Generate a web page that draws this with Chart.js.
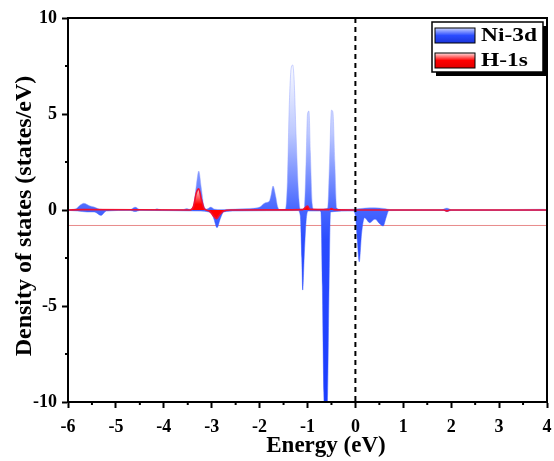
<!DOCTYPE html>
<html>
<head>
<meta charset="utf-8">
<script src="https://cdn.jsdelivr.net/npm/chart.js@4.4.1/dist/chart.umd.min.js"></script>
<style>
  html, body { margin: 0; padding: 0; background: #fff; }
  #wrap { width: 554px; height: 461px; }
</style>
</head>
<body>
<div id="wrap"><canvas id="dos" width="554" height="461"></canvas></div>
<script>
// energia (eV) y densidad de estados
var upE   = [-6.0, -5.85, -5.75, -5.67, -5.55, -5.45, -5.35, -5.2, -4.7, -4.6, -4.5, -4.2, -4.14, -4.05, -3.6, -3.52, -3.45, -3.38, -3.32, -3.27, -3.22, -3.16, -3.1, -3.02, -2.95, -2.8, -2.5, -2.2, -2.0, -1.88, -1.8, -1.76, -1.72, -1.67, -1.62, -1.57, -1.5, -1.46, -1.42, -1.38, -1.34, -1.31, -1.28, -1.24, -1.19, -1.15, -1.07, -1.03, -1.0, -0.97, -0.94, -0.9, -0.87, -0.7, -0.58, -0.54, -0.5, -0.47, -0.43, -0.39, -0.3, 0.0, 0.2, 0.4, 0.6, 0.75, 1.8, 1.91, 2.0, 3.0, 3.9, 4.0];
var upDos = [0.02, 0.05, 0.25, 0.35, 0.22, 0.15, 0.05, 0.02, 0.02, 0.15, 0.03, 0.02, 0.06, 0.01, 0.02, 0.08, 0.03, 0.2, 1.3, 2.03, 1.2, 0.2, 0.05, 0.15, 0.05, 0.02, 0.05, 0.08, 0.15, 0.38, 0.45, 0.8, 1.25, 0.8, 0.15, 0.02, 0.03, 0.05, 1.5, 5.5, 7.4, 7.55, 6.8, 4.0, 1.0, 0.05, 0.05, 2.5, 5.0, 5.15, 3.0, 0.3, 0.05, 0.05, 0.1, 2.5, 5.2, 5.1, 2.5, 0.1, 0.03, 0.05, 0.1, 0.12, 0.08, 0.02, 0.02, 0.1, 0.02, 0.02, 0.04, 0.02];

var dnE   = [-6.0, -5.8, -5.6, -5.45, -5.31, -5.2, -4.7, -4.6, -4.5, -3.3, -3.0, -2.95, -2.89, -2.82, -2.75, -2.5, -1.2, -1.15, -1.12, -1.1, -1.07, -1.03, -0.99, -0.75, -0.72, -0.69, -0.66, -0.62, -0.58, -0.55, -0.52, -0.05, 0.0, 0.04, 0.08, 0.13, 0.19, 0.3, 0.41, 0.5, 0.58, 0.64, 0.7, 1.85, 1.91, 2.0, 4.0];
var dnDos = [-0.02, -0.05, -0.1, -0.1, -0.28, -0.05, -0.02, -0.08, -0.02, -0.05, -0.15, -0.5, -0.92, -0.45, -0.1, -0.05, -0.03, -0.3, -2.5, -4.17, -2.5, -0.6, -0.05, -0.05, -0.1, -4.0, -9.5, -11.5, -9.5, -4.0, -0.1, -0.05, -0.3, -1.6, -2.7, -1.2, -0.4, -0.66, -0.47, -0.7, -0.83, -0.4, -0.03, -0.02, -0.08, -0.02, -0.02];

var hE   = [-6.0, -5.7, -3.45, -3.38, -3.32, -3.27, -3.22, -3.15, -3.05, -2.95, -2.9, -2.85, -2.75, -2.6, -1.1, -1.0, -0.95, -0.55, -0.5, -0.45, -0.05, 1.85, 1.91, 1.97, 4.0];
var hDos = [0.0, 0.02, 0.0, 0.2, 0.9, 1.1, 0.6, 0.05, -0.05, -0.35, -0.45, -0.3, -0.05, 0.0, 0.02, 0.2, 0.03, 0.02, 0.08, 0.02, 0.0, 0.0, -0.05, 0.0, 0.0];

var xTicks = [-6, -5, -4, -3, -2, -1, 0, 1, 2, 3, 4];
var yTicks = [-10, -5, 0, 5, 10];
var etiquetas = ['Ni-3d', 'H-1s'];
var tituloX = 'Energy (eV)';
var tituloY = 'Density of states (states/eV)';

var fuente = 'Liberation Serif';

function puntos(xs, ys) {
    return xs.map(function (x, i) { return { x: x, y: ys[i] }; });
}

// degradado azul para Ni-3d
function azul(context) {
    var ca = context.chart.chartArea;
    if (!ca) return '#3050ff';
    var g = context.chart.ctx.createLinearGradient(0, ca.top, 0, ca.bottom);
    g.addColorStop(0.0, '#ffffff');
    g.addColorStop(0.12, '#fafbff');
    g.addColorStop(0.3, '#bcc8ff');
    g.addColorStop(0.5, '#4666ff');
    g.addColorStop(0.58, '#2a4cff');
    g.addColorStop(1.0, '#1a3cff');
    return g;
}

// degradado rojo para H-1s
function rojo(context) {
    var ca = context.chart.chartArea;
    if (!ca) return '#ff0000';
    var ys = context.chart.scales.y;
    var top = ys.getPixelForValue(1.2), mid = ys.getPixelForValue(0.3);
    var g = context.chart.ctx.createLinearGradient(0, top, 0, mid);
    g.addColorStop(0, '#fff0f0');
    g.addColorStop(1, '#ff0000');
    return g;
}

var extras = {
    id: 'extras',
    beforeDatasetsDraw: function (chart) {
        var ctx = chart.ctx, ca = chart.chartArea, ys = chart.scales.y;
        var yy = ys.getPixelForValue(-0.78);
        ctx.save();
        ctx.strokeStyle = '#e88a8a';
        ctx.lineWidth = 1;
        ctx.beginPath();
        ctx.moveTo(ca.left, yy + 0.5);
        ctx.lineTo(ca.right, yy + 0.5);
        ctx.stroke();
        ctx.restore();
    },
    afterDraw: function (chart) {
        var ctx = chart.ctx, ca = chart.chartArea;
        var xs = chart.scales.x, ys = chart.scales.y;
        ctx.save();
        // linea de Fermi
        var x0 = xs.getPixelForValue(0);
        ctx.strokeStyle = '#000';
        ctx.lineWidth = 2;
        ctx.setLineDash([5, 4]);
        ctx.beginPath();
        ctx.moveTo(x0, ca.top);
        ctx.lineTo(x0, ca.bottom);
        ctx.stroke();
        ctx.setLineDash([]);
        // marco
        ctx.lineWidth = 2;
        ctx.strokeRect(ca.left, ca.top, ca.right - ca.left, ca.bottom - ca.top);
        // ticks menores
        ctx.lineWidth = 2;
        for (var v = -5.5; v < 4; v += 1) {
            var px = xs.getPixelForValue(v);
            ctx.beginPath();
            ctx.moveTo(px, ca.bottom);
            ctx.lineTo(px, ca.bottom + 3);
            ctx.stroke();
        }
        for (var w = -7.5; w < 10; w += 5) {
            var py = ys.getPixelForValue(w);
            ctx.beginPath();
            ctx.moveTo(ca.left, py);
            ctx.lineTo(ca.left - 3, py);
            ctx.stroke();
        }
        // titulos de los ejes
        ctx.fillStyle = '#000';
        ctx.textAlign = 'center';
        ctx.textBaseline = 'alphabetic';
        ctx.font = 'bold 23px ' + fuente;
        ctx.fillText(tituloX, 326, 452);
        ctx.save();
        ctx.translate(31, 216);
        ctx.rotate(-Math.PI / 2);
        ctx.font = 'bold 24px ' + fuente;
        ctx.fillText(tituloY, 0, 0);
        ctx.restore();
        // leyenda
        var bx = 432, by = 22, bw = 111, bh = 50;
        ctx.fillStyle = '#000';
        ctx.fillRect(bx + 4, by + 4, bw, bh);
        ctx.fillStyle = '#fff';
        ctx.fillRect(bx, by, bw, bh);
        ctx.lineWidth = 1.5;
        ctx.strokeStyle = '#000';
        ctx.strokeRect(bx, by, bw, bh);
        var gb = ctx.createLinearGradient(0, 28, 0, 43);
        gb.addColorStop(0, '#c8d2ff');
        gb.addColorStop(0.5, '#2a4cff');
        gb.addColorStop(1, '#1a34d8');
        ctx.fillStyle = gb;
        ctx.fillRect(435, 28, 40, 15);
        ctx.lineWidth = 1;
        ctx.strokeRect(435, 28, 40, 15);
        var gr = ctx.createLinearGradient(0, 53, 0, 68);
        gr.addColorStop(0, '#ffe0e0');
        gr.addColorStop(0.5, '#ff0000');
        gr.addColorStop(1, '#e00000');
        ctx.fillStyle = gr;
        ctx.fillRect(435, 53, 40, 15);
        ctx.strokeRect(435, 53, 40, 15);
        ctx.fillStyle = '#000';
        ctx.font = 'bold 18px ' + fuente;
        ctx.textBaseline = 'middle';
        ctx.textAlign = 'left';
        ctx.translate(481, 0);
        ctx.scale(1.3, 1);
        ctx.fillText(etiquetas[0], 0, 36);
        ctx.fillText(etiquetas[1], 0, 61);
        ctx.restore();
    }
};

var ctx = document.getElementById('dos').getContext('2d');
var grafica = new Chart(ctx, {
    type: 'line',
    data: {
        datasets: [{
            label: etiquetas[1],
            data: puntos(hE, hDos),
            borderColor: '#ee1133',
            borderWidth: 1.6,
            backgroundColor: rojo,
            fill: 'origin',
            pointRadius: 0,
            cubicInterpolationMode: 'monotone',
            order: 0
        }, {
            label: etiquetas[0] + ' up',
            data: puntos(upE, upDos),
            borderColor: 'rgba(150,165,255,0.6)',
            borderWidth: 0.8,
            backgroundColor: azul,
            fill: 'origin',
            pointRadius: 0,
            cubicInterpolationMode: 'monotone',
            order: 1
        }, {
            label: etiquetas[0] + ' down',
            data: puntos(dnE, dnDos),
            borderColor: 'rgba(60,90,255,0.6)',
            borderWidth: 0.8,
            backgroundColor: azul,
            fill: 'origin',
            pointRadius: 0,
            cubicInterpolationMode: 'monotone',
            order: 2
        }]
    },
    options: {
        responsive: false,
        animation: false,
        events: [],
        layout: { padding: { top: 18, right: 7, left: 0, bottom: 0 } },
        plugins: { legend: { display: false }, tooltip: { enabled: false } },
        scales: {
            x: {
                type: 'linear',
                min: -6, max: 4,
                afterBuildTicks: function (s) { s.ticks = xTicks.map(function (v) { return { value: v }; }); },
                afterFit: function (s) { s.height = 59; s.paddingLeft = 0; s.paddingRight = 0; },
                ticks: { color: '#000', font: { family: fuente, size: 18, weight: 'bold' }, padding: 9, maxRotation: 0 },
                grid: { drawOnChartArea: false, tickLength: 6, tickWidth: 2, tickColor: '#000' },
                border: { color: '#000', width: 2 },
                title: { display: false }
            },
            y: {
                min: -10, max: 10,
                afterBuildTicks: function (s) { s.ticks = yTicks.map(function (v) { return { value: v }; }); },
                afterFit: function (s) { s.width = 68; s.paddingTop = 0; s.paddingBottom = 0; },
                ticks: { color: '#000', font: { family: fuente, size: 18, weight: 'bold' }, padding: 5 },
                grid: { drawOnChartArea: false, tickLength: 6, tickWidth: 2, tickColor: '#000' },
                border: { color: '#000', width: 2 },
                title: { display: false }
            }
        }
    },
    plugins: [extras]
});
</script>
</body>
</html>
